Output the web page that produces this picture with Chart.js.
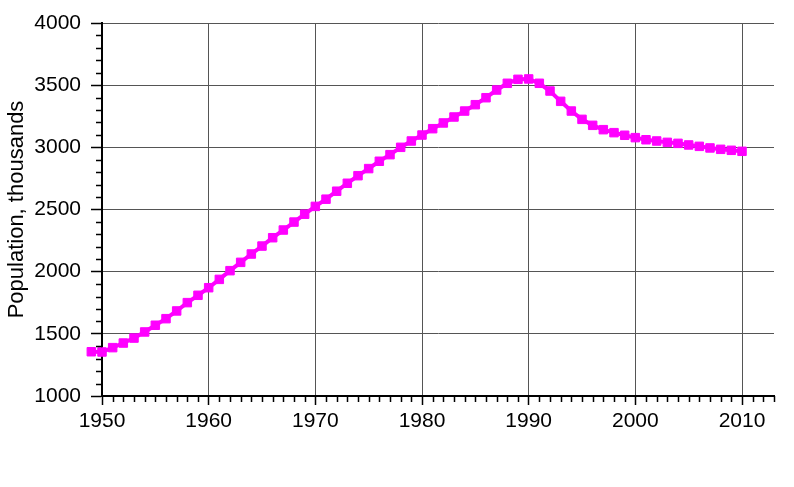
<!DOCTYPE html>
<html>
<head>
<meta charset="utf-8">
<script src="https://cdn.jsdelivr.net/npm/chart.js@4"></script>
<style>
  html, body { margin: 0; padding: 0; background: #fff; }
  #wrap { width: 794px; height: 487px; }
</style>
</head>
<body>
<div id="wrap"><canvas id="myChart"></canvas></div>
<script>
const years = [
  1949, 1950, 1951, 1952, 1953, 1954, 1955, 1956, 1957, 1958,
  1959, 1960, 1961, 1962, 1963, 1964, 1965, 1966, 1967, 1968,
  1969, 1970, 1971, 1972, 1973, 1974, 1975, 1976, 1977, 1978,
  1979, 1980, 1981, 1982, 1983, 1984, 1985, 1986, 1987, 1988,
  1989, 1990, 1991, 1992, 1993, 1994, 1995, 1996, 1997, 1998,
  1999, 2000, 2001, 2002, 2003, 2004, 2005, 2006, 2007, 2008,
  2009, 2010
];
const population = [
  1356, 1354, 1389, 1426, 1466, 1515, 1569, 1622, 1684, 1751,
  1810, 1871, 1938, 2008, 2075, 2142, 2206, 2273, 2335, 2399,
  2462, 2525, 2583, 2647, 2711, 2772, 2829, 2888, 2941, 3000,
  3051, 3099, 3150, 3196, 3244, 3292, 3343, 3399, 3461, 3515,
  3547, 3550, 3515, 3453, 3370, 3292, 3225, 3177, 3142, 3118,
  3097, 3078, 3061, 3051, 3040, 3032, 3019, 3008, 2995, 2984,
  2976, 2968
];
const yTitle = 'Population, thousands';

const font = { family: '"Liberation Sans", Arial, sans-serif', size: 21 };

// small ticks every year / every 100, plus points that sit outside the plot box
const extras = {
  id: 'extras',
  afterDatasetsDraw(chart) {
    const meta = chart.getDatasetMeta(0);
    const area = chart.chartArea;
    const whole = { left: 0, top: 0, right: chart.width, bottom: chart.height };
    meta.data.forEach(pt => {
      if (pt.x < area.left - 3 || pt.x > area.right + 3) pt.draw(chart.ctx, whole);
    });
  },
  afterDraw(chart) {
    const ctx = chart.ctx;
    const x = chart.scales.x;
    const y = chart.scales.y;
    const area = chart.chartArea;
    ctx.save();
    ctx.strokeStyle = '#000';
    ctx.lineWidth = 1.5;
    ctx.beginPath();
    for (let yr = 1950; yr <= 2013; yr++) {
      if (yr % 10 === 0) continue;
      const px = Math.round(x.getPixelForValue(yr)) + 0.5;
      ctx.moveTo(px, area.bottom);
      ctx.lineTo(px, area.bottom + 6);
    }
    for (let v = 1000; v <= 4000; v += 100) {
      if (v % 500 === 0) continue;
      const py = Math.round(y.getPixelForValue(v)) + 0.5;
      ctx.moveTo(area.left - 6, py);
      ctx.lineTo(area.left, py);
    }
    ctx.stroke();
    ctx.restore();
  }
};

const ctx = document.getElementById('myChart');
new Chart(ctx, {
  type: 'line',
  data: {
    datasets: [{
      label: yTitle,
      data: years.map((yr, i) => ({ x: yr, y: population[i] })),
      borderColor: '#ff00ff',
      backgroundColor: '#ff00ff',
      borderWidth: 4,
      pointStyle: 'rect',
      pointRadius: 6,
      pointBorderWidth: 1,
      pointHoverRadius: 6,
      tension: 0,
      clip: false
    }]
  },
  options: {
    responsive: true,
    maintainAspectRatio: false,
    animation: false,
    events: [],
    layout: { padding: { left: 0, right: 20, top: 23, bottom: 0 } },
    plugins: {
      legend: { display: false },
      tooltip: { enabled: false }
    },
    scales: {
      x: {
        type: 'linear',
        min: 1950,
        max: 2013,
        afterFit(scale) { scale.height = 91; },
        ticks: {
          stepSize: 10,
          includeBounds: false,
          padding: 4,
          color: '#000',
          font: font,
          maxRotation: 0,
          callback: v => String(v)
        },
        grid: {
          color: '#555',
          lineWidth: 1,
          drawTicks: true,
          tickLength: 9,
          tickColor: '#000',
          tickWidth: 1.5
        },
        border: { display: true, color: '#000', width: 2 }
      },
      y: {
        min: 1000,
        max: 4000,
        afterFit(scale) { scale.width = 102; },
        ticks: {
          stepSize: 500,
          padding: 10,
          color: '#000',
          font: font,
          callback: v => String(v)
        },
        grid: {
          color: '#555',
          lineWidth: 1,
          drawTicks: true,
          tickLength: 11,
          tickColor: '#000',
          tickWidth: 1.5
        },
        border: { display: true, color: '#000', width: 2 },
        title: {
          display: true,
          text: yTitle,
          color: '#000',
          font: { family: font.family, size: 22 },
          padding: { top: 4, bottom: 0 }
        }
      }
    }
  },
  plugins: [extras]
});
</script>
</body>
</html>
